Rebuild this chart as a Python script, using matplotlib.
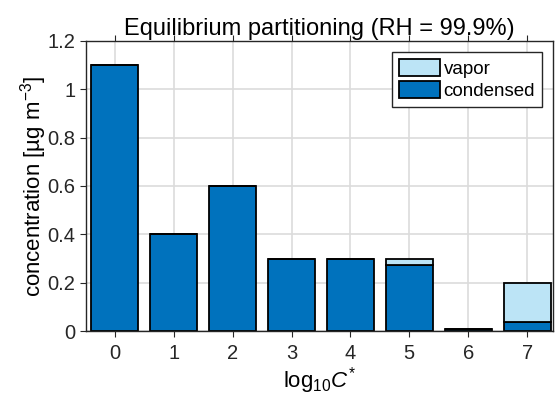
import numpy as np
import matplotlib
matplotlib.use('Agg')
import matplotlib.pyplot as plt

plt.rcParams['font.family'] = ['Liberation Sans', 'DejaVu Sans']
plt.rcParams['mathtext.fontset'] = 'custom'
plt.rcParams['mathtext.rm'] = 'Liberation Sans'
plt.rcParams['mathtext.it'] = 'Liberation Sans:italic'

# volatility bins and mass in each phase
logC = [0, 1, 2, 3, 4, 5, 6, 7]
condensed = [1.1, 0.4, 0.6, 0.3, 0.3, 0.275, 0.01, 0.038]
vapor = [0.0, 0.0, 0.0, 0.0, 0.0, 0.025, 0.0, 0.162]
yticks = [0, 0.2, 0.4, 0.6, 0.8, 1, 1.2]
ytick_labels = ['0', '0.2', '0.4', '0.6', '0.8', '1', '1.2']

dark = '#0072BD'
light = '#BCE4F6'

fig = plt.figure(figsize=(5.57, 4.07), dpi=100)
ax = fig.add_axes([0.1544, 0.1867, 0.8384, 0.7126])

x = np.array(logC)
ax.bar(x, condensed, width=0.8, color=dark, edgecolor='black', linewidth=1.3,
       label='condensed', zorder=2)
ax.bar(x, vapor, width=0.8, bottom=condensed, color=light, edgecolor='black',
       linewidth=1.3, label='vapor', zorder=2)

ax.set_xlim(-0.49, 7.44)
ax.set_ylim(0, 1.2)
ax.set_xticks(logC)
ax.set_yticks(yticks)
ax.set_yticklabels(ytick_labels)
ax.tick_params(direction='out', labelsize=14.5, colors='#262626', length=4,
               top=True, right=False)
ax.tick_params(axis='x', pad=5)
ax.grid(True, color='#dcdcdc', linewidth=1.2, zorder=0)
ax.set_axisbelow(True)
for s in ax.spines.values():
    s.set_color('#262626')
    s.set_linewidth(1.0)

ax.set_title('Equilibrium partitioning (RH = 99.9%)', fontsize=17, pad=4)
ax.set_xlabel(r'log$_{10}$$\mathit{C}^{*}$', fontsize=16, labelpad=2)
ax.set_ylabel(r'concentration [µg m$^{-3}$]', fontsize=16, labelpad=-1)

h, l = ax.get_legend_handles_labels()
leg = ax.legend(h[::-1], l[::-1], loc='upper right', fontsize=13.5,
                fancybox=False, edgecolor='#262626', framealpha=1,
                borderpad=0.35, handlelength=2.2, handleheight=1.0,
                handletextpad=0.2, labelspacing=0.2, borderaxespad=0.6)
leg.get_frame().set_linewidth(1.0)

fig.savefig('out.png', dpi=100)
